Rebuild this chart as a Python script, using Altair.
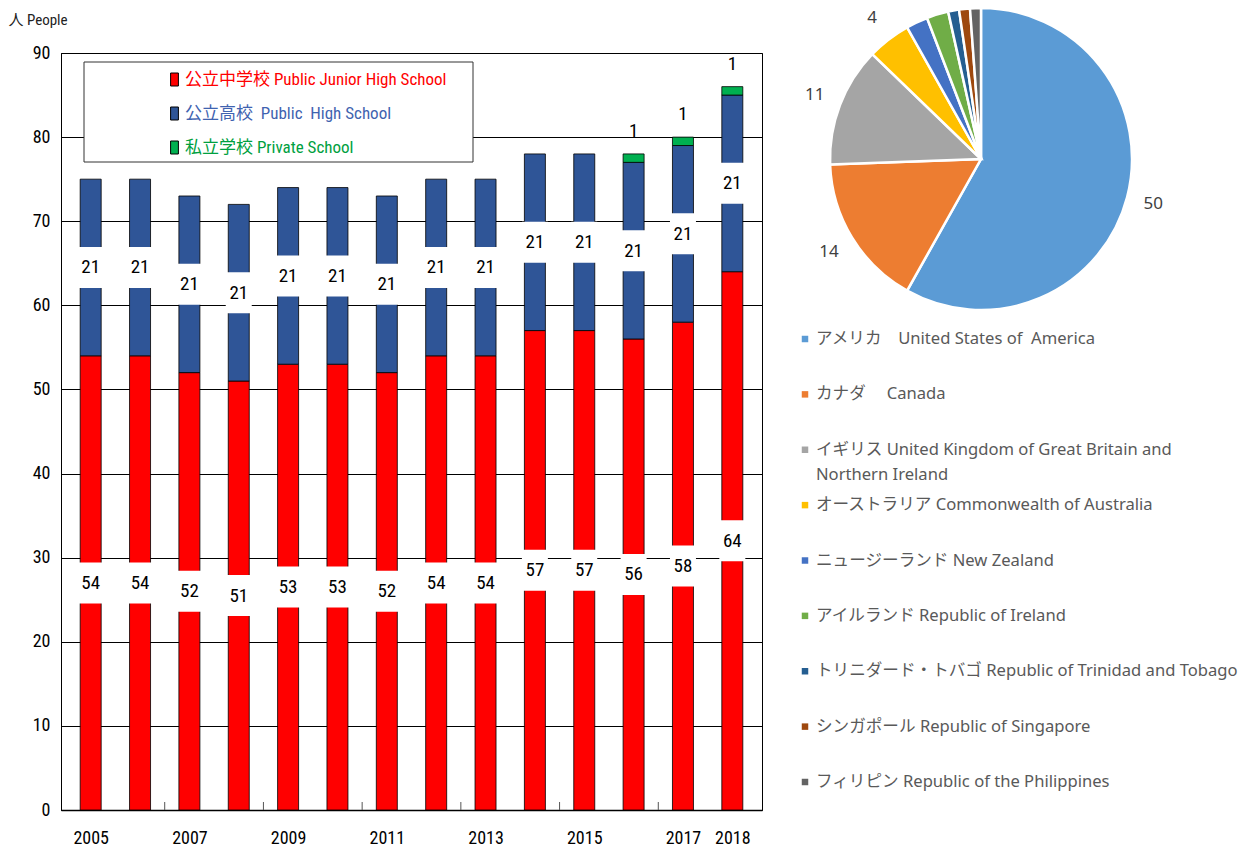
import altair as alt
import pandas as pd

# ---------------- data ----------------
years = [2005, 2006, 2007, 2008, 2009, 2010, 2011, 2012, 2013, 2014, 2015, 2016, 2017, 2018]
junior_high = [54, 54, 52, 51, 53, 53, 52, 54, 54, 57, 57, 56, 58, 64]
high_school = [21, 21, 21, 21, 21, 21, 21, 21, 21, 21, 21, 21, 21, 21]
private_school = [0, 0, 0, 0, 0, 0, 0, 0, 0, 0, 0, 1, 1, 1]

series_names = [
    "公立中学校 Public Junior High School",
    "公立高校\u00a0\u00a0Public\u00a0\u00a0High School",
    "私立学校 Private School",
]
series_colors = ["#FF0000", "#2F5597", "#00B050"]

x_label_years = [2005, 2007, 2009, 2011, 2013, 2015, 2017, 2018]
y_ticks = [0, 10, 20, 30, 40, 50, 60, 70, 80, 90]

countries = [
    "アメリカ\u3000United States of\u00a0\u00a0America",
    "カナダ\u3000 Canada",
    "イギリス United Kingdom of Great Britain and\nNorthern Ireland",
    "オーストラリア Commonwealth of Australia",
    "ニュージーランド New Zealand",
    "アイルランド Republic of Ireland",
    "トリニダード・トバゴ Republic of Trinidad and Tobago",
    "シンガポール Republic of Singapore",
    "フィリピン Republic of the Philippines",
]
country_counts = [50, 14, 11, 4, 2, 2, 1, 1, 1]
country_colors = ["#5B9BD5", "#ED7D31", "#A5A5A5", "#FFC000", "#4472C4",
                  "#70AD47", "#255E91", "#9E480E", "#636363"]

# ---------------- tables ----------------
bar_rows = []
for i, yr in enumerate(years):
    for k, vals in enumerate([junior_high, high_school, private_school]):
        if vals[i] > 0:
            bar_rows.append({"year": yr, "series": series_names[k], "value": vals[i], "order": k})
bar_df = pd.DataFrame(bar_rows)

label_rows = []
for i, yr in enumerate(years):
    label_rows.append({"year": yr, "pos": junior_high[i] / 2, "label": str(junior_high[i])})
    label_rows.append({"year": yr, "pos": junior_high[i] + high_school[i] / 2, "label": str(high_school[i])})
label_df = pd.DataFrame(label_rows)

priv_df = pd.DataFrame([
    {"year": yr, "total": junior_high[i] + high_school[i] + private_school[i], "label": str(private_school[i])}
    for i, yr in enumerate(years) if private_school[i] > 0
])

tick_df = pd.DataFrame({"mid": [yr + 0.5 for yr in years[1:-1:2]]})

pie_df = pd.DataFrame({"country": countries, "count": country_counts, "idx": list(range(len(countries)))})

# ---------------- styles ----------------
NARROW = "Liberation Sans Narrow, Roboto Condensed, DejaVu Sans Condensed, Noto Sans CJK JP, sans-serif"
PIEFONT = "Noto Sans, Noto Sans CJK JP, sans-serif"

x_scale = alt.Scale(domain=[2004.5, 2018.5], nice=False, zero=False)
y_scale = alt.Scale(domain=[0, 90], nice=False)

label_color_expr = (
    "indexof(datum.value, '中学') >= 0 ? '#FF0000' : "
    "(indexof(datum.value, '高校') >= 0 ? '#3F63B0' : '#00A040')"
)

# legend frame (white box behind the series legend)
legend_frame = alt.Chart(pd.DataFrame({"frame": [0]})).mark_rect(
    fill="white", stroke="#333", strokeWidth=1
).encode(x=alt.value(23), x2=alt.value(412), y=alt.value(9), y2=alt.value(109))

bars = alt.Chart(bar_df).mark_bar(size=21, stroke="black", strokeWidth=0.8).encode(
    x=alt.X("year:Q", scale=x_scale,
            axis=alt.Axis(values=x_label_years, format="d", title=None, grid=False, ticks=False,
                          domain=True, domainColor="black", domainWidth=1.5,
                          labelFont=NARROW, labelFontSize=18, labelPadding=19,
                          labelColor="black", labelFlush=False)),
    y=alt.Y("value:Q", stack="zero", scale=y_scale,
            axis=alt.Axis(values=y_ticks, title="人 People", titleAngle=0, titleAlign="left",
                          titleBaseline="top", titleX=-53, titleY=-41, titleFont=NARROW,
                          titleFontSize=15, titleFontWeight="normal", titleColor="#222",
                          grid=True, gridColor="black", gridWidth=1, gridOpacity=1,
                          ticks=False, domain=True, domainColor="black", domainWidth=1,
                          labelFont=NARROW, labelFontSize=18,
                          labelPadding=11, labelColor="black")),
    color=alt.Color("series:N", sort=series_names,
                    scale=alt.Scale(domain=series_names, range=series_colors),
                    legend=alt.Legend(orient="none", legendX=23, legendY=9, title=None,
                                      direction="vertical",
                                      symbolType="M-0.6,-1H0.6V1H-0.6Z", symbolSize=169,
                                      symbolStrokeColor="black", symbolStrokeWidth=1,
                                      symbolOffset=73, labelOffset=2,
                                      labelFont=NARROW, labelFontSize=17, labelLimit=600,
                                      labelColor={"expr": label_color_expr},
                                      strokeColor="transparent", fillColor="transparent",
                                      padding=9, rowPadding=16)),
    order=alt.Order("order:Q"),
)

boxes = alt.Chart(label_df).mark_point(
    shape="M-0.634,-1H0.634V1H-0.634Z", size=1681, filled=True, color="white", opacity=1,
    strokeWidth=0
).encode(x="year:Q", y="pos:Q")

seg_labels = alt.Chart(label_df).mark_text(
    font=NARROW, fontSize=19, color="black", baseline="middle", align="center"
).encode(x="year:Q", y="pos:Q", text="label:N")

priv_labels = alt.Chart(priv_df).mark_text(
    font=NARROW, fontSize=19, color="black", baseline="middle", align="center", dy=-23
).encode(x="year:Q", y="total:Q", text="label:N")

minor_ticks = alt.Chart(tick_df).mark_rule(color="#555", strokeWidth=1).encode(
    x="mid:Q", y=alt.value(757), y2=alt.value(749)
)

bar_group = alt.layer(bars, boxes, seg_labels, priv_labels, minor_ticks, legend_frame)

# ---------------- pie ----------------
pie_color = alt.Color("country:N", sort=countries,
                      scale=alt.Scale(domain=countries, range=country_colors), legend=None)
CX, CY = 920, 106

arcs = alt.Chart(pie_df).mark_arc(radius=151, stroke="white", strokeWidth=2.5).encode(
    theta=alt.Theta("count:Q", stack=True),
    color=pie_color,
    order=alt.Order("idx:Q"),
    x=alt.value(CX), y=alt.value(CY),
)
pie_labels = alt.Chart(pie_df).mark_text(
    radius=178, font=PIEFONT, fontSize=17, color="#404040", baseline="middle", align="center"
).encode(
    theta=alt.Theta("count:Q", stack=True),
    order=alt.Order("idx:Q"),
    text="count:Q",
    x=alt.value(CX), y=alt.value(CY),
)

leg_y = alt.Y("country:N", sort=countries,
              scale=alt.Scale(type="point", domain=countries, range=[286, 729], padding=0),
              axis=None)
leg_sym = alt.Chart(pie_df).mark_square(size=42, opacity=1).encode(
    x=alt.value(744), y=leg_y, color=pie_color
)
leg_txt = alt.Chart(pie_df).mark_text(
    align="left", baseline="middle", lineBreak="\n", lineHeight=25, font=PIEFONT,
    fontSize=16.6, color="#595959"
).encode(x=alt.value(755), y=leg_y, text="country:N")

pie_group = alt.layer(arcs, pie_labels, leg_sym, leg_txt)

chart = alt.layer(bar_group, pie_group).resolve_scale(
    y="independent", color="independent", theta="independent"
).properties(
    width=701, height=757,
    autosize=alt.AutoSizeParams(type="none"),
    padding={"left": 53, "top": 45, "right": 482, "bottom": 37},
    view=alt.ViewBackground(stroke="black", strokeWidth=1),
).configure_view(stroke="black", strokeWidth=1).configure(background="white")

chart.save("out.html", embed_options={"renderer": "svg", "actions": False})
